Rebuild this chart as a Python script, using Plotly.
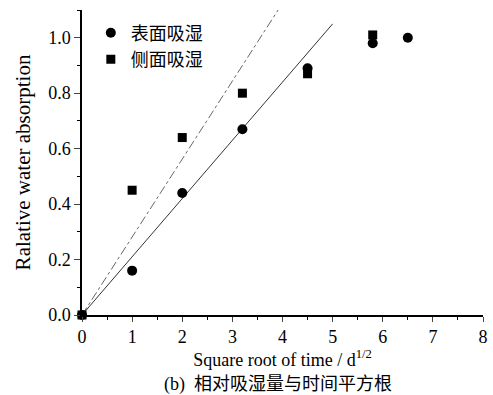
import plotly.graph_objects as go

x_surface = [0, 1, 2, 3.2, 4.5, 5.8, 6.5]
y_surface = [0, 0.16, 0.44, 0.67, 0.89, 0.98, 1.0]
x_side = [0, 1, 2, 3.2, 4.5, 5.8]
y_side = [0, 0.45, 0.64, 0.80, 0.87, 1.01]
fit_solid_x = [0, 5.0]
fit_solid_y = [0, 1.05]
fit_dash_x = [0, 3.93]
fit_dash_y = [0, 1.105]
x_ticks = [0, 1, 2, 3, 4, 5, 6, 7, 8]
y_ticks = [0.0, 0.2, 0.4, 0.6, 0.8, 1.0]

serif = "Liberation Serif, Times New Roman, serif"
cjk = "Liberation Serif, Noto Sans CJK SC, serif"

fig = go.Figure()
fig.add_trace(go.Scatter(x=fit_dash_x, y=fit_dash_y, mode="lines",
                         line=dict(color="#555", width=0.9, dash="dashdot"),
                         showlegend=False, hoverinfo="skip"))
fig.add_trace(go.Scatter(x=fit_solid_x, y=fit_solid_y, mode="lines",
                         line=dict(color="#333", width=1),
                         showlegend=False, hoverinfo="skip"))
fig.add_trace(go.Scatter(x=x_side, y=y_side, mode="markers", name="侧面吸湿",
                         legendgroup="b", legendrank=2,
                         marker=dict(symbol="square", size=9, color="black"),
                         cliponaxis=False))
fig.add_trace(go.Scatter(x=x_surface, y=y_surface, mode="markers", name="表面吸湿",
                         legendgroup="a", legendrank=1,
                         marker=dict(symbol="circle", size=10, color="black"),
                         cliponaxis=False))

fig.update_layout(
    width=493, height=395,
    margin=dict(l=82, r=5, t=10, b=80),
    paper_bgcolor="white", plot_bgcolor="white",
    font=dict(family=serif, size=18, color="black"),
    legend=dict(x=0.022, y=0.985, xanchor="left", yanchor="top",
                font=dict(family=cjk, size=18), bgcolor="rgba(0,0,0,0)",
                itemwidth=30, tracegroupgap=8, traceorder="normal"),
    xaxis=dict(range=[0, 8], tickvals=x_ticks, ticks="outside", ticklen=5, tickwidth=1.2,
               showline=True, linecolor="black", linewidth=1.5, showgrid=False, zeroline=False,
               minor=dict(dtick=0.5, ticks="outside", ticklen=3, tickwidth=1, tickcolor="black"),
               title=dict(text="Square root of time / d<sup>1/2</sup>", standoff=4,
                          font=dict(family=serif, size=18)),
               tickfont=dict(family=serif, size=18)),
    yaxis=dict(range=[0, 1.1], tickvals=y_ticks, tickformat=".1f", ticks="outside", ticklen=6,
               tickwidth=1.2, showline=True, linecolor="black", linewidth=1.5, showgrid=False,
               zeroline=False,
               minor=dict(dtick=0.1, ticks="outside", ticklen=3, tickwidth=1, tickcolor="black"),
               title=dict(text="Ralative water absorption", standoff=12,
                          font=dict(family=serif, size=21)),
               tickfont=dict(family=serif, size=18)),
    annotations=[dict(text="(b)  相对吸湿量与时间平方根", xref="paper", yref="paper",
                      x=0.49, y=0, yshift=-57, xanchor="center", yanchor="top",
                      showarrow=False, font=dict(family=cjk, size=18))],
)
fig.write_html("out.html")
